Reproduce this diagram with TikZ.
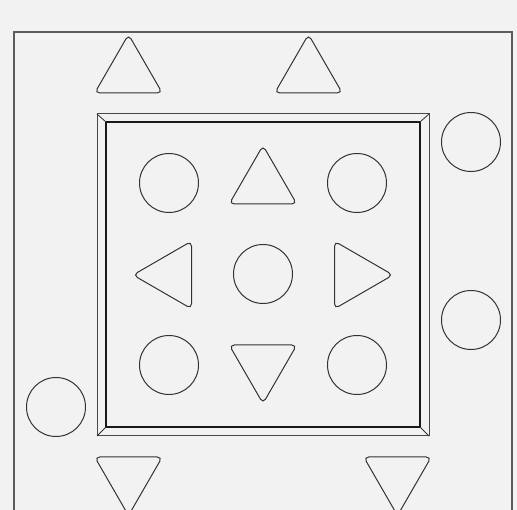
\documentclass[tikz,border=0pt]{standalone}
\usetikzlibrary{shapes.geometric,calc}
\definecolor{paper}{HTML}{F2F2F2}
\definecolor{ink}{HTML}{333333}
\begin{document}
\begin{tikzpicture}[x=1pt, y=-1pt,
    piece/.style={draw=ink, line width=1pt, fill=paper, inner sep=0pt, outer sep=0pt},
    peg/.style={piece, circle, minimum size=59pt},
    tri/.style={regular polygon, regular polygon sides=3, minimum size=78pt, inner sep=0pt, outer sep=0pt},
    tridown/.style={tri, shape border rotate=180},
    trileft/.style={tri, shape border rotate=90},
    triright/.style={tri, shape border rotate=270}]
    \clip (0,0) rectangle (517,510);
    \fill[paper] (0,0) rectangle (517,510);
    % board
    \draw[draw=ink!80, line width=1.2pt, fill=paper] (14,32) rectangle (512,540);
    % frame with bevel
    \node[draw=ink!90, line width=1pt, minimum width=332pt, minimum height=322pt, inner sep=0pt, outer sep=0pt] (frameout) at (263,275) {};
    \node[draw=black!90, line width=1.3pt, minimum width=314pt, minimum height=305pt, inner sep=0pt, outer sep=0pt] (framein) at (263,274.5) {};
    \draw[ink, line width=0.8pt] (frameout.north west) -- (framein.north west);
    \draw[ink, line width=0.8pt] (frameout.north east) -- (framein.north east);
    \draw[ink, line width=0.8pt] (frameout.south west) -- (framein.south west);
    \draw[ink, line width=0.8pt] (frameout.south east) -- (framein.south east);
    % pieces inside the frame
    \node[peg] (pegnw) at (169,183) {};
    \node[tri] (triup) at (263,184.5) {};
    \node[peg] (pegne) at (357,183) {};
    \node[trileft] (trileft) at (172,275) {};
    \node[peg] (pegmid) at (263,274) {};
    \node[triright] (triright) at (354,275) {};
    \node[peg] (pegsw) at (169,365) {};
    \node[tridown] (tridown) at (263,364.5) {};
    \node[peg] (pegse) at (357,365) {};
    % pieces on the board
    \node[tri] (topa) at (128.5,73.5) {};
    \node[tri] (topb) at (308.5,73.5) {};
    \node[peg] (sidea) at (471,142) {};
    \node[peg] (sideb) at (471,320) {};
    \node[peg] (sidec) at (56,407) {};
    \node[tridown] (bota) at (128.5,476.5) {};
    \node[tridown] (botb) at (397.5,476.5) {};
    % rounded outlines of the triangles
    \foreach \t in {triup,trileft,triright,tridown,topa,topb,bota,botb}
        \draw[piece, rounded corners=5pt] ($(\t.corner 1)!0.5!(\t.corner 2)$) -- (\t.corner 2) -- (\t.corner 3) -- (\t.corner 1) -- cycle;
\end{tikzpicture}
\end{document}
